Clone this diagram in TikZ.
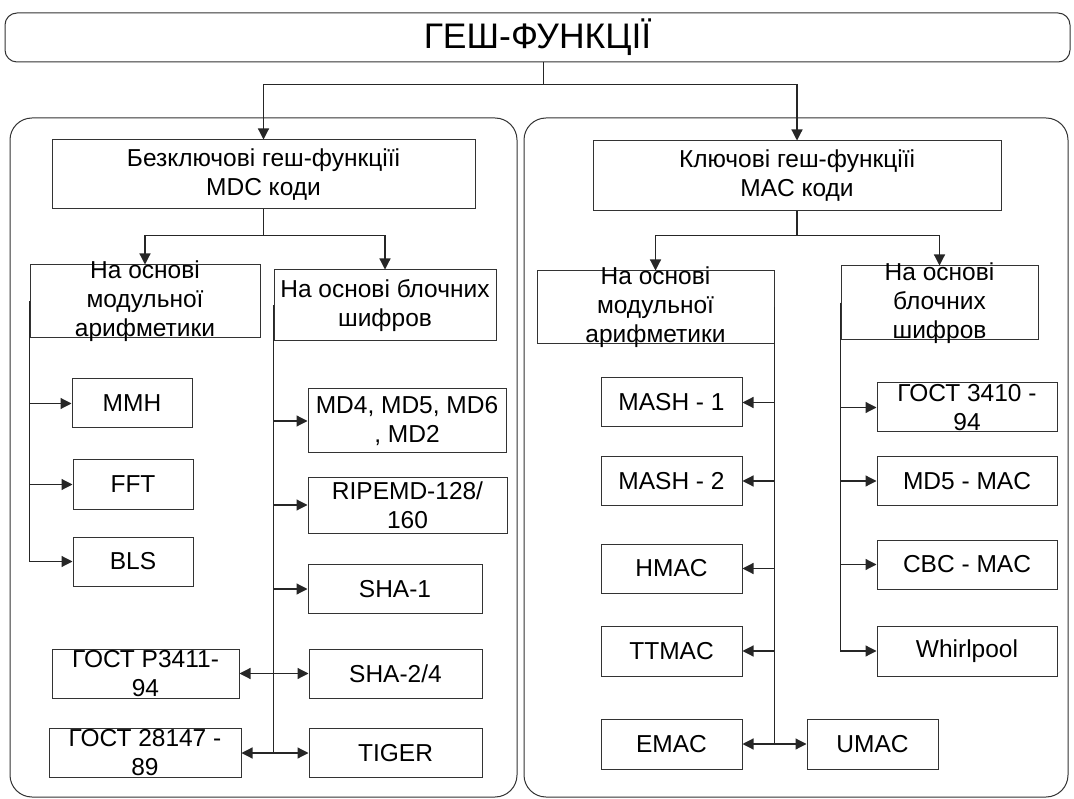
\documentclass[tikz,border=0pt]{standalone}
\usepackage{fontspec}
\setmainfont{Liberation Sans}
\usetikzlibrary{arrows.meta}
\newcommand\boxfont{\fontsize{24.5}{29}\selectfont}
\newcommand\titlefont{\fontsize{35.5}{40}\selectfont}

\begin{document}
\begin{tikzpicture}[x=1pt,y=-1pt,
    box/.style={draw=black!80,line width=1pt,inner xsep=0pt,inner ysep=-30pt,
        align=center,font=\boxfont},
    panel/.style={draw=black!80,line width=1pt,rounded corners=22pt},
    link/.style={draw=black!85,line width=1.2pt},
    arr/.style={link,-{Triangle[length=11pt,width=11pt]}}
]
    \useasboundingbox (0,0) rectangle (1074,799);

    \draw[panel] (10,118) rectangle (517,797);
    \draw[panel] (524,118) rectangle (1068,797);

    \node[box,rounded corners=12pt,font=\titlefont,minimum width=1065pt,
        minimum height=49pt] (title) at (537.5,37.5) {ГЕШ-ФУНКЦІЇ};

    \node[box,minimum width=423pt,minimum height=69pt] (lhead) at (263.5,174.5)
        {Безключові геш-функціїі\\MDC коди};
    \node[box,minimum width=408pt,minimum height=70pt] (rhead) at (797,176)
        {Ключові геш-функціїі\\MAC коди};

    % MDC
    \node[box,minimum width=230pt,minimum height=73pt] (lmod) at (145,301.5)
        {На основі\\модульної\\арифметики};
    \node[box,minimum width=222pt,minimum height=71pt] (lblk) at (385,305.5)
        {На основі блочних\\шифров};

    \node[box,minimum width=120pt,minimum height=49pt] (mmh) at (132,403.5) {MMH};
    \node[box,minimum width=120pt,minimum height=49pt] (fft) at (133,484.5) {FFT};
    \node[box,minimum width=120pt,minimum height=49pt] (bls) at (133,561.5) {BLS};

    \node[box,minimum width=198pt,minimum height=64pt] (md) at (407,421)
        {MD4, MD5, MD6\\, MD2};
    \node[box,minimum width=199pt,minimum height=56pt] (ripe) at (407.5,505)
        {RIPEMD-128/\\160};
    \node[box,minimum width=174pt,minimum height=49pt] (sha1) at (395,589) {SHA-1};
    \node[box,minimum width=173pt,minimum height=49pt] (sha2) at (395.5,673.5) {SHA-2/4};
    \node[box,minimum width=173pt,minimum height=49pt] (tiger) at (395.5,753) {TIGER};
    \node[box,minimum width=187pt,minimum height=49pt] (gostr) at (145.5,673.5)
        {ГОСТ Р3411-\\94};
    \node[box,minimum width=192pt,minimum height=49pt] (gost89) at (145,753)
        {ГОСТ 28147 -\\89};

    % MAC
    \node[box,minimum width=237pt,minimum height=73pt] (rmod) at (655.5,307.5)
        {На основі\\модульної\\арифметики};
    \node[box,minimum width=197pt,minimum height=74pt] (rblk) at (939.5,303)
        {На основі\\блочних\\шифров};

    \node[box,minimum width=141pt,minimum height=49pt] (mash1) at (671.5,402.5) {MASH - 1};
    \node[box,minimum width=141pt,minimum height=49pt] (mash2) at (671.5,481) {MASH - 2};
    \node[box,minimum width=141pt,minimum height=49pt] (hmac) at (671.5,568.5) {HMAC};
    \node[box,minimum width=141pt,minimum height=50pt] (ttmac) at (671.5,651) {TTMAC};
    \node[box,minimum width=141pt,minimum height=50pt] (emac) at (671.5,744) {EMAC};
    \node[box,minimum width=131pt,minimum height=50pt] (umac) at (872.5,744) {UMAC};

    \node[box,minimum width=180pt,minimum height=49pt] (g3410) at (967,407.5)
        {ГОСТ 3410 -\\94};
    \node[box,minimum width=180pt,minimum height=49pt] (md5mac) at (967,481) {MD5 - MAC};
    \node[box,minimum width=180pt,minimum height=49pt] (cbcmac) at (967,564.5) {CBC - MAC};
    \node[box,minimum width=180pt,minimum height=50pt] (whirl) at (967,651) {Whirlpool};

    \draw[link] ([xshift=6pt]title.south) -- ++(0,22) coordinate (tj);
    \draw[link] (lhead.south) -- ++(0,26) coordinate (lj);
    \draw[link] (rhead.south) -- ++(0,24) coordinate (rj);

    \foreach \a/\b in {tj/lhead,tj/rhead,lj/lmod,lj/lblk,rj/rmod,rj/rblk}
        \draw[arr] (\a) -| (\b);

    \foreach \b in {mmh,fft,bls}
        \draw[arr] (lmod.west) |- (\b);
    \foreach \b in {md,ripe,sha1,sha2,tiger}
        \draw[arr] (lblk.west) |- (\b);
    \foreach \a/\b in {sha2/gostr,tiger/gost89}
        \draw[arr] (\a -| lblk.west) -- (\b);

    \foreach \b in {mash1,mash2,hmac,ttmac,emac}
        \draw[arr] (rmod.east) |- (\b);
    \draw[arr] (emac -| rmod.east) -- (umac);
    \foreach \b in {g3410,md5mac,cbcmac,whirl}
        \draw[arr] (rblk.west) |- (\b);
\end{tikzpicture}
\end{document}
